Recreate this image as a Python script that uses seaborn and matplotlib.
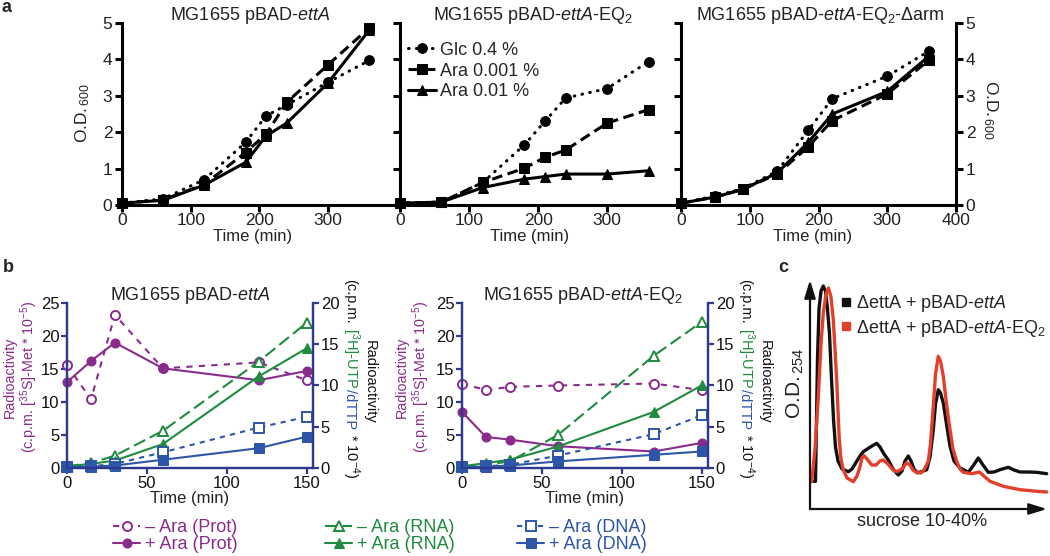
import matplotlib
matplotlib.use("Agg")
import matplotlib.pyplot as plt
import seaborn as sns
from matplotlib.lines import Line2D

sns.set_theme(style="ticks")
plt.rcParams["font.family"] = ["Liberation Sans", "DejaVu Sans"]
plt.rcParams["mathtext.fontset"] = "custom"
plt.rcParams["mathtext.rm"] = "Liberation Sans"
plt.rcParams["mathtext.it"] = "Liberation Sans:italic"
plt.rcParams["mathtext.bf"] = "Liberation Sans:bold"

# ---------------- data: panel a (growth, O.D. 600) ----------------
a_series = ["Glc 0.4 %", "Ara 0.001 %", "Ara 0.01 %"]
a1_time = [0, 60, 120, 180, 210, 240, 300, 360]
a1_glc = [0.05, 0.17, 0.70, 1.72, 2.45, 2.75, 3.37, 3.97]
a1_ara001 = [0.05, 0.14, 0.57, 1.44, 1.95, 2.82, 3.85, 4.86]
a1_ara01 = [0.05, 0.13, 0.55, 1.17, 1.90, 2.25, 3.35, 4.80]

a2_time = [0, 60, 120, 180, 210, 240, 300, 360]
a2_glc = [0.05, 0.08, 0.62, 1.65, 2.30, 2.94, 3.20, 3.94]
a2_ara001 = [0.05, 0.08, 0.62, 1.01, 1.31, 1.51, 2.25, 2.62]
a2_ara01 = [0.05, 0.08, 0.48, 0.71, 0.78, 0.85, 0.85, 0.94]

a3_time = [0, 50, 90, 140, 185, 220, 300, 360]
a3_glc = [0.05, 0.25, 0.45, 0.93, 2.05, 2.92, 3.54, 4.22]
a3_ara001 = [0.05, 0.22, 0.43, 0.85, 1.60, 2.32, 3.05, 3.97]
a3_ara01 = [0.05, 0.22, 0.43, 0.88, 1.72, 2.50, 3.12, 4.08]

# ---------------- data: panel b (radioactivity) ----------------
b_time = [0, 15, 30, 60, 120, 150]
b_labels = ["– Ara (Prot)", "+ Ara (Prot)", "– Ara (RNA)", "+ Ara (RNA)",
            "– Ara (DNA)", "+ Ara (DNA)"]
b1_prot_minus = [15.6, 10.4, 23.2, 15.1, 16.0, 13.3]
b1_prot_plus = [13.0, 16.2, 19.0, 15.1, 13.3, 14.7]
b1_rna_minus = [0.2, 0.6, 1.5, 4.5, 12.9, 17.6]
b1_rna_plus = [0.2, 0.5, 0.9, 2.9, 11.1, 14.5]
b1_dna_minus = [0.1, 0.2, 0.5, 1.9, 4.9, 6.2]
b1_dna_plus = [0.1, 0.15, 0.3, 1.0, 2.4, 3.8]

b2_prot_minus = [12.8, 11.8, 12.3, 12.5, 12.8, 11.8]
b2_prot_plus = [8.5, 4.7, 4.3, 3.3, 2.5, 3.8]
b2_rna_minus = [0.2, 0.4, 0.8, 4.0, 13.6, 17.7]
b2_rna_plus = [0.2, 0.6, 1.0, 2.6, 6.8, 10.0]
b2_dna_minus = [0.1, 0.2, 0.4, 1.5, 4.1, 6.4]
b2_dna_plus = [0.1, 0.15, 0.3, 0.8, 1.6, 2.0]

# ---------------- data: panel c (sucrose gradient profiles) ----------------
c_labels = [r"ΔettA + pBAD-$\mathit{ettA}$", r"ΔettA + pBAD-$\mathit{ettA}$-EQ$_2$"]
c_black_x = [1.7, 5.5, 6.5, 7.5, 9.0, 11.0, 13.3, 15.5, 17.5, 19.5, 21.5, 23.5, 25.5,
             28.0, 32.0, 38.3, 42.0, 46.7, 50.0, 53.3, 58.3, 62.0, 66.7, 70.0, 74.0,
             78.3, 83.0, 88.3, 92.0, 95.0, 98.3, 101.0, 104.0, 107.3, 112.0, 116.7,
             120.0, 123.3, 125.5, 128.3, 130.5, 133.3, 136.5, 140.0, 144.0, 150.0,
             158.3, 163.0, 168.3, 173.0, 178.3, 184.0, 190.0, 198.3, 204.0, 210.0,
             218.0, 226.7, 236.7]
c_black_y = [27.7, 27.7, 90, 150, 200, 218, 223, 218, 200, 175, 130, 90, 62,
             48, 40, 37.3, 40, 47.7, 53, 57.3, 60.7, 63, 65.7, 62, 55,
             49, 40, 34, 38, 48, 53, 48, 40, 36.3, 37.5, 39.3,
             52, 79.3, 105, 119.3, 116, 106, 85, 62.7, 48, 41,
             36.7, 43, 51, 44, 36.7, 37, 39.3, 41.7, 39, 37,
             37, 36.7, 35.3]
c_red_x = [1.7, 5.0, 8.3, 11.0, 13.3, 16.0, 18.5, 21.0, 23.3, 25.0, 26.7, 28.0,
           29.3, 31.0, 33.3, 37.0, 43.3, 47.0, 50.0, 52.0, 54.0, 57.0, 61.7, 66.0,
           70.0, 73.3, 78.0, 83.0, 86.7, 92.0, 96.7, 100.0, 103.0, 106.7, 110.7,
           114.0, 118.3, 120.5, 123.3, 125.5, 128.3, 130.5, 133.3, 136.5, 140.0,
           143.0, 146.7, 150.0, 153.3, 161.7, 169.3, 175.0, 180.0, 193.3, 210.0,
           226.7, 236.7]
c_red_y = [27.3, 60, 112, 165, 196, 215, 221, 212, 189, 160, 129, 98,
           69, 50, 39, 31, 27.3, 33, 42.3, 51, 53.3, 50, 44, 44,
           48, 49, 45, 39, 37.3, 40, 46.3, 44, 39, 36.3, 36,
           39, 47.7, 65, 102.7, 135, 152.7, 148, 132.7, 105, 79.3,
           60, 47.7, 40, 36.7, 35.3, 37, 32, 27.7, 22.7, 19.3,
           17.7, 17]

PURPLE = "#8A2B8C"
GREEN = "#1E8B3E"
BLUE = "#2D56A8"
NAVY = "#2E3A8F"
RED = "#E2402B"

W, H = 1050, 556
fig = plt.figure(figsize=(W / 100, H / 100), dpi=100)
fig.patch.set_facecolor("white")


def rect(l, t, r, b):
    return [l / W, 1 - b / H, (r - l) / W, (b - t) / H]


def fx(x):
    return x / W


def fy(y):
    return 1 - y / H


def series(ax, x, y, **kw):
    n = len(ax.lines)
    sns.lineplot(x=x, y=y, ax=ax, sort=False, estimator=None, errorbar=None, **kw)
    ln = ax.lines[n]
    ln.set_clip_on(False)
    return ln


DOT = (0, (0.2, 2.4))
DASH = (0, (3.5, 1.8))

def draw_a(ax, t, glc, a001, a01):
    common = dict(color="black", lw=2.2, markeredgecolor="black", markerfacecolor="black")
    h1 = series(ax, t, glc, marker="o", markersize=7, linestyle=DOT,
                dash_capstyle="round", **common)
    h2 = series(ax, t, a001, marker="s", markersize=7, linestyle=DASH, **common)
    h3 = series(ax, t, a01, marker="^", markersize=7.5, linestyle="-", **common)
    return [h1, h2, h3]


def style_a(ax):
    ax.spines["top"].set_visible(False)
    for s in ax.spines.values():
        s.set_linewidth(2.2)
        s.set_color("black")
    ax.tick_params(width=2.2, length=5, color="black", labelsize=12.5, pad=2,
                   labelcolor="#222222")
    ax.tick_params(axis="x", pad=1)
    ax.set_ylim(0, 5)
    ax.set_yticks([0, 1, 2, 3, 4, 5])
    ax.set_xlabel("")
    ax.set_ylabel("")
    ax.set_facecolor("none")


# ---- panel a1
ax1 = fig.add_axes(rect(122, 23, 400, 205))
draw_a(ax1, a1_time, a1_glc, a1_ara001, a1_ara01)
style_a(ax1)
ax1.spines["right"].set_visible(False)
ax1.set_xlim(0, 405)
ax1.set_xticks([0, 100, 200, 300])

# ---- panel a2
ax2 = fig.add_axes(rect(400, 23, 681, 205))
hs = draw_a(ax2, a2_time, a2_glc, a2_ara001, a2_ara01)
style_a(ax2)
ax2.spines["right"].set_visible(False)
ax2.set_xlim(0, 407)
ax2.set_xticks([0, 100, 200, 300])
ax2.tick_params(axis="y", labelleft=False)
ax2.legend(hs, a_series, loc="center left", bbox_to_anchor=(fx(408), fy(71)),
           bbox_transform=fig.transFigure, frameon=False, fontsize=13,
           handlelength=1.55, handletextpad=0.2, labelspacing=0.22,
           borderpad=0, borderaxespad=0)

# ---- panel a3
ax3 = fig.add_axes(rect(681, 23, 956, 205))
draw_a(ax3, a3_time, a3_glc, a3_ara001, a3_ara01)
style_a(ax3)
ax3.set_xlim(0, 400)
ax3.set_xticks([0, 100, 200, 300, 400])
ax3.tick_params(axis="y", left=True, right=True, labelleft=False, labelright=True)

for cx, title in [(250, r"MG1655 pBAD-$\mathit{ettA}$"),
                  (533, r"MG1655 pBAD-$\mathit{ettA}$-EQ$_2$"),
                  (820, r"MG1655 pBAD-$\mathit{ettA}$-EQ$_2$-Δarm")]:
    fig.text(fx(cx), fy(15), title, ha="center", va="center", fontsize=13, color="#222222")
for cx in [253, 530, 813]:
    fig.text(fx(cx), fy(237), "Time (min)", ha="center", va="center", fontsize=12, color="#222222")
fig.text(fx(83), fy(113), r"O.D.$_{\,600}$", rotation=90, ha="center", va="center",
         fontsize=12.5, color="#222222")
fig.text(fx(990), fy(110), r"O.D.$_{\,600}$", rotation=270, ha="center", va="center",
         fontsize=12.5, color="#222222")

# ---------------- panel b ----------------
def draw_b(l, r, pm, pp, rm, rp, dm, dp):
    ax = fig.add_axes(rect(l, 303, r, 468))
    axr = ax.twinx()
    mk = dict(lw=1.5, markersize=6.5)
    h_pm = series(ax, b_time, pm, color=PURPLE, marker="o", markerfacecolor="white",
                  markeredgecolor=PURPLE, markeredgewidth=1.4, linestyle=(0, (3, 3)), **mk)
    h_pp = series(ax, b_time, pp, color=PURPLE, marker="o", markerfacecolor=PURPLE,
                  markeredgecolor=PURPLE, linestyle="-", **mk)
    h_rm = series(axr, b_time, rm, color=GREEN, marker="^", markerfacecolor="white",
                  markeredgecolor=GREEN, markeredgewidth=1.4, linestyle=(0, (6, 2.5)), **mk)
    h_rp = series(axr, b_time, rp, color=GREEN, marker="^", markerfacecolor=GREEN,
                  markeredgecolor=GREEN, linestyle="-", **mk)
    h_dm = series(axr, b_time, dm, color=BLUE, marker="s", markerfacecolor="white",
                  markeredgecolor=BLUE, markeredgewidth=1.4, linestyle=(0, (2.5, 2.5)), **mk)
    h_dp = series(axr, b_time, dp, color=BLUE, marker="s", markerfacecolor=BLUE,
                  markeredgecolor=BLUE, linestyle="-", **mk)
    for a in (ax, axr):
        a.spines["top"].set_visible(False)
        for s in a.spines.values():
            s.set_color(NAVY)
            s.set_linewidth(1.6)
        a.tick_params(color=NAVY, width=1.6, length=4, labelsize=12, pad=1.5,
                      labelcolor="#111111")
        a.set_xlabel("")
        a.set_ylabel("")
    ax.set_xlim(0, 154)
    ax.set_xticks([0, 50, 100, 150])
    ax.set_ylim(0, 25)
    ax.set_yticks([0, 5, 10, 15, 20, 25])
    axr.set_ylim(0, 20)
    axr.set_yticks([0, 5, 10, 15, 20])
    return ax, [h_pm, h_pp, h_rm, h_rp, h_dm, h_dp]


bax1, bh = draw_b(67, 313, b1_prot_minus, b1_prot_plus, b1_rna_minus, b1_rna_plus,
                  b1_dna_minus, b1_dna_plus)
bax2, _ = draw_b(462, 708, b2_prot_minus, b2_prot_plus, b2_rna_minus, b2_rna_plus,
                 b2_dna_minus, b2_dna_plus)

fig.text(fx(190), fy(295), r"MG1655 pBAD-$\mathit{ettA}$", ha="center", va="center",
         fontsize=13, color="#222222")
fig.text(fx(583), fy(295), r"MG1655 pBAD-$\mathit{ettA}$-EQ$_2$", ha="center", va="center",
         fontsize=13, color="#222222")
for cx in [190, 585]:
    fig.text(fx(cx), fy(499), "Time (min)", ha="center", va="center", fontsize=12,
             color="#222222")

renderer = fig.canvas.get_renderer()

for sp in (67, 462):
    off = 3 if sp == 67 else 6
    fig.text(fx(sp - 54 - off), fy(377), "Radioactivity", rotation=90, ha="center",
             va="center", fontsize=10.3, color=PURPLE)
    fig.text(fx(sp - 35 - off), fy(377), r"(c.p.m. [$^{35}$S]-Met * 10$^{-5}$)",
             rotation=90, ha="center", va="center", fontsize=10.3, color=PURPLE)

right_parts = [("(c.p.m.", "#111111"), (r" [$^{3}$H]-UTP", GREEN), ("/dTTP", BLUE),
               (r" * 10$^{-4}$)", "#111111")]
for sp in (313, 708):
    fig.text(fx(sp + 57), fy(382), "Radioactivity", rotation=270, ha="center",
             va="center", fontsize=10.5, color="#111111")
    y = fy(279)
    for s, c in right_parts:
        t = fig.text(fx(sp + 33), y, s, rotation=270, rotation_mode="anchor",
                     ha="left", va="baseline", fontsize=10.5, color=c)
        bb = t.get_window_extent(renderer)
        y = (bb.y0 - 0.5) / fig.bbox.height

for i, x0 in enumerate([113, 325, 517]):
    fig.legend(bh[2 * i:2 * i + 2], b_labels[2 * i:2 * i + 2], loc="center left",
               bbox_to_anchor=(fx(x0), fy(536)), frameon=False, fontsize=13,
               handlelength=1.5, handletextpad=0.25, labelspacing=0.0,
               borderpad=0, borderaxespad=0, labelcolor="linecolor")

# ---------------- panel c ----------------
cax = fig.add_axes(rect(810, 280, 1047, 509))
series(cax, c_red_x, c_red_y, color=RED, lw=2.4, solid_joinstyle="round")
series(cax, c_black_x, c_black_y, color="#111111", lw=2.4, solid_joinstyle="round")
cax.lines[0].set_zorder(2)
cax.lines[1].set_zorder(1.9)
cax.set_xlim(0, 237)
cax.set_ylim(0, 229)
for s in cax.spines.values():
    s.set_visible(False)
cax.set_xticks([])
cax.set_yticks([])
cax.set_xlabel("")
cax.set_ylabel("")
cax.set_facecolor("none")
arrow = dict(arrowstyle="-|>,head_length=0.9,head_width=0.28", lw=1.6, color="#111111",
             shrinkA=0, shrinkB=0)
cax.annotate("", xy=(1, 0), xytext=(0, 0), xycoords="axes fraction", arrowprops=arrow)
cax.annotate("", xy=(0, 1), xytext=(0, 0), xycoords="axes fraction", arrowprops=arrow)
ch = [Line2D([], [], marker="s", ls="none", color="#111111", markersize=6),
      Line2D([], [], marker="s", ls="none", color=RED, markersize=6)]
fig.legend(ch, c_labels, loc="center left", bbox_to_anchor=(fx(841), fy(316)),
           frameon=False, fontsize=13, handlelength=0.6, handletextpad=0.25,
           labelspacing=0.2, borderpad=0, borderaxespad=0)
fig.text(fx(922), fy(522), "sucrose 10-40%", ha="center", va="center", fontsize=13,
         color="#222222")
fig.text(fx(795), fy(383), r"O.D.$_{\,254}$", rotation=90, ha="center", va="center",
         fontsize=15, color="#222222")

# panel letters
fig.text(fx(2), fy(8), "a", fontsize=13, fontweight="bold", ha="left", va="center")
fig.text(fx(3), fy(268), "b", fontsize=13, fontweight="bold", ha="left", va="center")
fig.text(fx(778), fy(268), "c", fontsize=13, fontweight="bold", ha="left", va="center")

fig.savefig("out.png", dpi=100, facecolor="white")
